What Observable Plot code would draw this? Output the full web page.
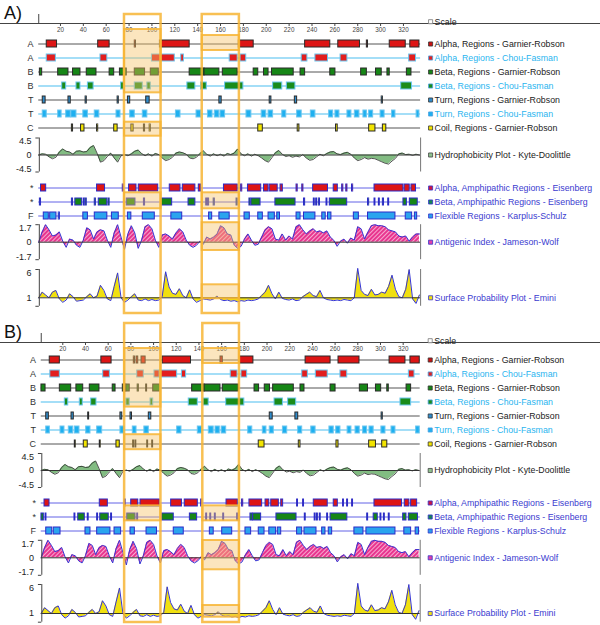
<!DOCTYPE html>
<html><head><meta charset="utf-8">
<script src="https://cdn.jsdelivr.net/npm/d3@7"></script>
<script src="https://cdn.jsdelivr.net/npm/@observablehq/plot@0.6"></script>
<style>
html,body{margin:0;padding:0;background:#fff;}
#chart{position:relative;width:600px;height:625px;overflow:hidden;font-family:"Liberation Sans",Arial,sans-serif;}
#chart svg{position:absolute !important;left:0;top:0;overflow:visible;background:transparent !important;font-family:"Liberation Sans",Arial,sans-serif;}
.plabel{position:absolute;left:4px;font-size:18px;line-height:18px;color:#111;}
</style></head><body><div id="chart"></div>
<script>
// ---------- data ----------
const X_DOMAIN = [0, 335];
const tickLabels = [20,40,60,80,100,120,140,160,180,200,220,240,260,280,300,320];
const samplePos = d3.range(1, 335, 3); // residue positions of the profile samples

// Panel A regions [start, end] (residue numbers)
const alphaGR_A = [[8,17],[53,63],[85,86],[107,133],[176,189],[234,256],[263,282],[288,289],[308,322],[326,334]];
const alphaCF_A = [[8,16],[55,61],[100,120],[125.6,128],[168,175],[177.5,182.5],[231,236],[243,254],[265,271],[325,331]];
const betaGR_A = [[2,4],[18,27],[31,37.5],[43,51.5],[63,67],[72,76],[76,78],[85,94],[99,106],[133,146],[146,159],[162,175],[189,193],[198,202],[205,224],[230,234],[256,260.5],[283,288],[296,301],[306,308],[323,327]];
const betaCF_A = [[21.5,25],[34,37.5],[44,49],[73,76],[85,92],[96,99],[131,138],[143,148],[164,180],[206,214],[218,225.5],[318,327.5]];
const turnGR_A = [[4.5,7],[27,29],[42,43],[70,71],[79,81],[95,98],[159,161],[203,204.5],[225,227],[301,302]];
const turnCF_A = [[4.5,8],[18,21],[25,29],[29.5,34],[40,44],[50,54],[69,72.5],[81,85],[92,96],[121,125],[139,143],[149,153],[155,159],[160,164],[182.7,187],[196,200],[202,206],[214,217.5],[227,231],[239,243],[255,258.5],[260.5,264],[271,274.5],[277.5,281.5],[285,288],[290,293.5],[300,303.5],[310,313],[331.5,334]];
const coilGR_A = [[30,31],[38,41],[52,53],[67,70],[82,84],[93,94],[98,99],[193,197],[227.5,229],[261,262.5],[290,295.5],[302,305]];
const alphaAmph_A = [[3,7.5],[52,59],[74.5,75.5],[80,86.5],[88.5,105.5],[115.6,125],[127,138],[141,143],[163,175],[178,179],[184,195.6],[198,202],[203,210],[212.5,214.5],[226.5,227.5],[231.5,232.5],[241,254],[259,262.6],[266.4,267.4],[270,271],[275,276],[294.7,320],[321,325.5],[327,331]];
const betaAmph_A = [[2,3],[30,31],[33,39],[40.4,41.2],[42,43],[50,51],[53.5,61],[62,63],[78,85.6],[93,94],[108,117.7],[132,138],[147.5,148.3],[149,150],[154,155],[174,175],[185.3,186.3],[187,195],[208,225.6],[233,234],[241.6,242.4],[243.7,244.5],[246,247],[252.7,253.5],[255.6,270.8],[289,290],[294.7,295.5],[298.5,299.3],[302,303],[306.7,307.5],[320,323],[325.6,332.5]];
const flexible_A = [[5.4,9.8],[11,16.5],[18.5,19.5],[40,44],[50,61],[65,71],[79,82],[92,102.5],[117,126.5],[150,152.7],[159,168],[181,185.6],[193,197],[202,207.5],[209.6,212],[226.5,230],[233,243],[249,252],[254,257],[276.6,281],[289,313],[322,327.6],[330,332]];

// Panel B regions
const alphaGR_B = [[8.5,17.4],[54,63],[82.6,83.6],[85,86.5],[89.4,93],[108,133],[159,161],[176,188],[234,256],[263,281.5],[308,322],[326.4,334.6]];
const alphaCF_B = [[9,17.4],[55.6,61.5],[85.6,91.4],[100.8,105.5],[105.5,120.8],[125,128.7],[168,174],[177.5,182.5],[231,236],[243,253.5],[264.7,270.7],[325,330]];
const betaGR_B = [[1.2,4.8],[17.4,27.4],[32,38],[43.8,52.3],[64,66.5],[72.9,75.9],[76,79],[86,87],[93.5,94.3],[99.7,106],[134,145],[145,159],[161,175],[189,193],[198,202.6],[205.4,223.6],[229.5,233],[256,260.4],[281.8,289],[296,300.6],[306,307.3],[323,327]];
const betaCF_B = [[21.8,24.8],[35,37.6],[45,49.7],[76,79],[97.3,99.7],[131,139],[144,148.6],[164,180],[206.6,214],[218.6,225.7],[317.6,327]];
const turnGR_B = [[5.4,7.7],[27.7,29.7],[42.4,43.2],[70.8,72.4],[79.7,81],[95.8,98],[202.4,205],[225,227.5],[301,302]];
const turnCF_B = [[5.4,8.6],[18,21.5],[25.3,29.2],[30.6,34.7],[40.6,44.4],[50.3,54.7],[70.8,74.4],[81.7,85],[91.9,95.8],[120.8,124.6],[139,142.8],[148.7,153],[154.6,158.4],[160,164],[183.4,187],[196.3,199.5],[202.4,206],[214,217.8],[227.4,231],[239,242.8],[255,258.8],[261,264.7],[271,274.4],[278,281.7],[284.7,288.2],[290.3,294],[300.8,304.4],[309.7,313.2],[331.4,334.6]];
const coilGR_B = [[30.6,31.4],[38.5,42],[52.6,53.4],[67.3,70.2],[82,82.8],[84,84.8],[94.4,95.2],[98.8,99.6],[192.7,197.8],[228,229.5],[261.2,263],[290,296],[301.5,306]];
const alphaAmph_B = [[3.9,8.3],[52.6,59.7],[74.6,75.4],[80.3,86.5],[88.5,105.5],[115.5,125],[127.5,139],[142,143],[164.3,174.3],[178,179],[184.5,195.7],[198.7,202],[203.7,210.4],[212.5,214.2],[226.5,227.3],[231.8,232.6],[241.2,253.5],[258.8,262.4],[267,267.8],[270.6,271.4],[275,275.8],[294.7,319],[321.4,325.5],[327,332.3]];
const betaAmph_B = [[1.2,3.3],[4.8,5.6],[30.3,31.1],[33.6,39.4],[42,42.8],[50.3,51.1],[53,60.5],[62.6,63.4],[76.8,84.1],[85.6,86.4],[107.6,117.8],[132,138.4],[146.4,147.2],[150,150.8],[154,154.8],[161.4,162.2],[173.7,174.5],[185.4,187.4],[187.8,194.8],[208.3,226],[233.3,234.1],[242,242.8],[244,244.8],[246.5,247.3],[253,253.8],[256,270.8],[288.3,289.1],[294,297.6],[300,300.8],[303,303.8],[307.3,308.1],[320,322.9],[325,333]];
const flexible_B = [[5.4,10.7],[12,18],[40,44.4],[50.3,62],[65.6,71.4],[79.7,83.5],[93.8,103],[117.8,126.6],[149.6,153],[160.5,169.3],[181,186],[192.7,197.8],[202,208],[209.5,212.5],[226.5,231],[233,243.6],[248.6,251.5],[254.4,257.4],[277,285],[287.6,313.2],[321,327],[331,334]];

// Profiles (sampled every 3 residues from residue 1)
const hydroValues = [0,0.3,0.2,-0.5,-1.0,-0.6,0.8,1.6,1.0,0.8,
 0.2,1.0,1.1,0.8,0.9,2.0,2.5,0.5,-1.9,-1.5,
 -0.4,0.5,-0.8,-1.9,-0.2,0.1,-0.2,0.3,1.0,1.3,
 0.4,-0.2,0.3,-0.3,0.4,0.1,-0.8,-1.5,-1.2,-0.6,
 0.5,0.8,0.6,0.2,-0.8,-1.0,-0.6,0.4,1.1,0.2,
 -0.3,0.3,-0.2,0.2,-0.3,0.4,0.1,0.5,1.6,0.3,
 -0.2,0.3,-0.3,0.2,-0.2,-0.8,-1.5,-1.9,-0.7,0.6,
 1.2,0.2,-0.4,-0.2,-0.6,-0.3,-0.5,0.1,-0.8,-1.4,
 -1.2,-0.5,0.2,-0.2,0.4,0.8,0.9,0.3,0.1,0.5,
 0.7,0.2,-0.8,-1.5,-1.2,-0.7,-1.1,-0.9,-1.0,-1.4,
 -1.8,-2.2,-2.4,-1.6,-0.9,0.3,0.5,0.1,0.2,-0.1,
 0.2,0];
const antigenicValues = [0,1.0,1.7,1.2,0.6,0.7,1.0,0.1,-0.5,0.3,
 0.2,-0.3,-0.5,0.2,1.4,1.2,0.3,1.0,1.2,1.1,
 0.2,-0.5,0.9,1.7,0.5,-0.7,0.8,1.6,0.9,-0.6,
 0.2,1.5,1.7,1.3,0.2,-0.5,0.7,0.8,0.6,0.3,
 0.9,1.3,1.0,0.2,-0.3,-0.5,-0.3,0.1,-0.2,0.5,
 0.3,0.5,0.8,1.6,1.4,0.8,0.7,-0.3,-0.6,-0.4,
 0.3,0.8,0.2,-0.3,-0.2,0.5,1.2,1.5,1.3,0.3,
 0.2,0.8,0.2,0.6,0.3,1.5,1.7,1.2,0.8,1.1,
 1.3,1.0,1.1,0.9,1.1,0.5,0.2,-0.4,0.1,0.3,
 -0.1,0.4,0.2,1.5,1.3,0.3,1.0,1.6,1.7,1.6,
 1.6,1.5,1.2,1.1,1.0,0.6,0.5,0.6,0.1,0.5,
 0.8,0.8];
const surfaceValues = [1.0,2.0,1.5,1.0,2.0,2.3,0.8,0.2,0.6,1.7,
 1.2,0.4,0.5,0.6,1.2,1.7,1.0,1.3,3.2,2.3,
 0.8,0.5,3.0,5.4,1.0,0.2,0.6,1.2,1.7,0.6,
 0.5,0.8,0.5,0.7,0.5,0.6,1.2,5.6,2.9,1.8,
 1.6,2.6,1.4,1.0,2.4,0.8,0.2,0.5,0.8,0.7,
 0.6,0.8,1.3,0.7,0.5,0.6,0.4,0.5,0.3,0.5,
 0.4,0.6,0.5,0.6,0.8,1.4,2.0,3.2,1.7,0.8,
 2.0,0.9,0.7,0.6,0.8,0.5,0.6,1.2,1.6,2.0,
 1.4,1.2,2.3,1.0,0.7,0.6,0.5,0.6,0.5,0.7,
 0.6,0.5,1.0,6.2,2.3,1.6,1.4,2.5,1.5,1.6,
 2.0,1.8,3.0,5.0,2.5,1.2,1.0,2.5,6.0,0.8,
 0.0,1.5];

// ---------- styles ----------
const BLACK_T = "#222", CYAN_T = "#2bb5ef", BLUE_T = "#3b3bcf";
const trackKeys = ["aGR","aCF","bGR","bCF","tGR","tCF","cGR"];
const trackStyle = {
  aGR:{letter:"A", fill:"#dd1515", stroke:"#2a2a2a", line:"#555", lw:1, legend:"Alpha, Regions - Garnier-Robson", text:BLACK_T, sq:"#cc1111", sqs:"#333"},
  aCF:{letter:"A", fill:"#e21e1e", stroke:"#6cc6ef", line:"#86d3f5", lw:1.4, legend:"Alpha, Regions - Chou-Fasman", text:CYAN_T, sq:"#dd2222", sqs:"#4a9fe0"},
  bGR:{letter:"B", fill:"#168616", stroke:"#2a2a2a", line:"#555", lw:1, legend:"Beta, Regions - Garnier-Robson", text:BLACK_T, sq:"#168616", sqs:"#333"},
  bCF:{letter:"B", fill:"#1a8c1a", stroke:"#6cc6ef", line:"#86d3f5", lw:1.4, legend:"Beta, Regions - Chou-Fasman", text:CYAN_T, sq:"#1a8c1a", sqs:"#4a9fe0"},
  tGR:{letter:"T", fill:"#2f8ccc", stroke:"#2a2a2a", line:"#555", lw:1, legend:"Turn, Regions - Garnier-Robson", text:BLACK_T, sq:"#2f8ccc", sqs:"#333"},
  tCF:{letter:"T", fill:"#1eb0f0", stroke:"#6cc6ef", line:"#86d3f5", lw:1.4, legend:"Turn, Regions - Chou-Fasman", text:CYAN_T, sq:"#1eb0f0", sqs:"#4a9fe0"},
  cGR:{letter:"C", fill:"#f2e400", stroke:"#2a2a2a", line:"#555", lw:1, legend:"Coil, Regions - Garnier-Robson", text:BLACK_T, sq:"#f2e400", sqs:"#333"}
};
const amphKeys = ["alA","beA","flx"];
const amphStyle = {
  alA:{letter:"*", fill:"#dd1515", stroke:"#2b2bc8", line:"#6262e6", lw:1, legend:"Alpha, Amphipathic Regions - Eisenberg", text:BLUE_T, sq:"#cc1540", sqs:"#3333cc"},
  beA:{letter:"*", fill:"#168616", stroke:"#2b2bc8", line:"#6262e6", lw:1, legend:"Beta, Amphipathic Regions - Eisenberg", text:BLUE_T, sq:"#168650", sqs:"#3333cc"},
  flx:{letter:"F", fill:"#2aa4ee", stroke:"#2b2bc8", line:"#6262e6", lw:1, legend:"Flexible Regions - Karplus-Schulz", text:BLUE_T, sq:"#2a9cee", sqs:"#3333cc"}
};

// ---------- layout ----------
const panels = [
  {id:"A", label:"A)", labelTop:4, xRange:[37.1,420.1], axisY:23,
   rowY0:42, rowStep:14.45, hydroZero:154.5, amphY0:187, amphStep:14.3,
   antiZero:241.7, surfOne:297.3, surfSix:269, boxTop:14, boxBottom:313,
   boxes:[[76,108],[144,176.5]],
   tracks:{aGR:alphaGR_A,aCF:alphaCF_A,bGR:betaGR_A,bCF:betaCF_A,tGR:turnGR_A,tCF:turnCF_A,cGR:coilGR_A},
   amph:{alA:alphaAmph_A,beA:betaAmph_A,flx:flexible_A},
   fills:(r,a,P)=>[[0,r(0)-13,r(3)+7],[0,r(6)-7,r(6)+7],[0,a(1)-9,a(1)+7],
                   [1,r(0)-7,r(0)+8],[1,a(1)-9,a(1)+7],[1,P.antiZero-19.5,P.antiZero+8.3],[1,P.surfOne-13,P.surfOne+1]]},
  {id:"B", label:"B)", labelTop:323, xRange:[39.6,419.7], axisY:342,
   rowY0:359, rowStep:14.2, hydroZero:470, amphY0:502, amphStep:14.35,
   antiZero:557.3, surfOne:613, surfSix:584, boxTop:323, boxBottom:622,
   boxes:[[74.5,106.5],[143.4,175.7]],
   tracks:{aGR:alphaGR_B,aCF:alphaCF_B,bGR:betaGR_B,bCF:betaCF_B,tGR:turnGR_B,tCF:turnCF_B,cGR:coilGR_B},
   amph:{alA:alphaAmph_B,beA:betaAmph_B,flx:flexible_B},
   fills:(r,a,P)=>[[0,r(0)-11,r(3)+5],[0,r(6)-10,r(6)+5],[0,a(1)-11,a(1)+4],
                   [1,r(0)-11,r(0)+4],[1,a(1)-11,a(1)+4],[1,P.antiZero-17.3,P.antiZero+12],[1,P.surfOne-8,P.surfOne+3.7]]}
];

const chart = document.getElementById("chart");
const FONT = "Liberation Sans, Arial, sans-serif";
const base = {width:600, height:625, marginTop:0, marginRight:0, marginBottom:0, marginLeft:0, color:{type:"identity"}};

function legendMarks(keys, styles, yAcc) {
  return [
    Plot.dot(keys, {x:X_DOMAIN[1], y:yAcc, dx:10, symbol:"square", r:2.3, fill:d=>styles[d].sq, stroke:d=>styles[d].sqs, strokeWidth:0.8}),
    Plot.text(keys, {x:X_DOMAIN[1], y:yAcc, dx:14, text:d=>styles[d].legend, textAnchor:"start", fontSize:8.8, fill:d=>styles[d].text, fontFamily:FONT})
  ];
}

function rowsPlot(P, keys, styles, dataMap, y0, step) {
  const segs = keys.flatMap(k => dataMap[k].map(([s,e]) => ({row:k, start:s, end:e})));
  return Plot.plot({...base,
    x:{domain:X_DOMAIN, range:P.xRange, axis:null},
    y:{type:"band", domain:keys, range:[y0-step/2, y0+(keys.length-0.5)*step], paddingInner:0.5, paddingOuter:0.25, axis:null},
    marks:[
      Plot.ruleY(keys, {y:d=>d, x1:1, x2:X_DOMAIN[1], stroke:d=>styles[d].line, strokeWidth:d=>styles[d].lw}),
      Plot.barX(segs, {y:"row", x1:"start", x2:"end", fill:d=>styles[d.row].fill, stroke:d=>styles[d.row].stroke, strokeWidth:1}),
      Plot.text(keys, {y:d=>d, x:0, dx:-4, text:d=>styles[d].letter, textAnchor:"end", fontSize:9, fill:"#333", fontFamily:FONT}),
      ...legendMarks(keys, styles, d=>d)
    ]});
}

function profilePlot(P, cfg) {
  const samples = samplePos.map((pos,i)=>({pos, v:cfg.values[i]}));
  const lg = {k:{sq:cfg.sq, sqs:cfg.sqs, legend:cfg.legend, text:cfg.text}};
  const marks = [
    Plot.areaY(samples, {x:"pos", y1:cfg.base, y2:"v", fill:cfg.fill}),
    Plot.lineY(samples, {x:"pos", y:"v", stroke:cfg.line, strokeWidth:cfg.lw}),
    Plot.ruleY([cfg.base], {x1:1, x2:X_DOMAIN[1], stroke:"#333", strokeWidth:1}),
    Plot.ruleX([1.5], {y1:cfg.lo, y2:cfg.hi, stroke:"#444"}),
    Plot.ruleY([cfg.lo, cfg.hi], {x1:-1.5, x2:1.5, stroke:"#444"}),
    Plot.ruleX([X_DOMAIN[1]], {y1:cfg.lo, y2:cfg.hi, stroke:"#777"}),
    ...cfg.labels.map(l => Plot.text([l], {x:0, y:"v", text:"t", dx:-6, textAnchor:"end", lineAnchor:l.anchor, fontSize:9, fill:"#222", fontFamily:FONT})),
    ...legendMarks(["k"], lg, () => cfg.base)
  ];
  return Plot.plot({...base,
    x:{domain:X_DOMAIN, range:P.xRange, axis:null},
    y:{domain:cfg.domain, range:cfg.range, axis:null},
    marks});
}

for (const P of panels) {
  const rowY = i => P.rowY0 + i*P.rowStep;
  const amphY = i => P.amphY0 + i*P.amphStep;
  const svgs = [];

  // scale axis
  svgs.push(Plot.plot({...base, marginBottom:625-P.axisY,
    style:{fontSize:"6.3px", color:"#444"},
    x:{domain:X_DOMAIN, range:P.xRange, ticks:tickLabels, tickFormat:d=>String(d), tickSize:3, tickPadding:1.5, line:true, label:null},
    y:{domain:[0,1], range:[P.axisY, P.axisY-9], axis:null},
    marks:[
      Plot.ruleX([1], {y1:0, y2:1, stroke:"#444"}),
      ...legendMarks(["s"], {s:{sq:"#fff", sqs:"#777", legend:"Scale", text:BLACK_T}}, () => 0.2)
    ]}));

  svgs.push(rowsPlot(P, trackKeys, trackStyle, P.tracks, P.rowY0, P.rowStep));

  svgs.push(profilePlot(P, {values:hydroValues, base:0, domain:[-4.5,4.5], range:[P.hydroZero+17, P.hydroZero-17],
    lo:-4.5, hi:4.5, fill:"#82bc82", line:"#2a2a2a", lw:0.8,
    labels:[{v:4.5,t:"4.5",anchor:"top"},{v:0,t:"0",anchor:"middle"},{v:-4.5,t:"-4.5",anchor:"bottom"}],
    sq:"#8fc28f", sqs:"#444", legend:"Hydrophobicity Plot - Kyte-Doolittle", text:BLACK_T}));

  svgs.push(rowsPlot(P, amphKeys, amphStyle, P.amph, P.amphY0, P.amphStep));

  const anti = profilePlot(P, {values:antigenicValues, base:0, domain:[-1.7,1.7], range:[P.antiZero+17.5, P.antiZero-17.5],
    lo:-1.7, hi:1.7, fill:"#ea3f96", line:"#3434d4", lw:1,
    labels:[{v:1.7,t:"1.7",anchor:"top"},{v:0,t:"0",anchor:"middle"},{v:-1.7,t:"-1.7",anchor:"bottom"}],
    sq:"#e040a8", sqs:"#3333cc", legend:"Antigenic Index - Jameson-Wolf", text:BLUE_T});
  // hatch pattern for the antigenic fill
  const hid = "hatch" + P.id;
  d3.select(anti).selectAll('g[fill="#ea3f96"]').attr("fill", `url(#${hid})`);
  const pat = d3.select(anti).insert("defs", ":first-child").append("pattern")
    .attr("id", hid).attr("patternUnits","userSpaceOnUse").attr("width",3).attr("height",3)
    .attr("patternTransform","rotate(45)");
  pat.append("rect").attr("width",3).attr("height",3).attr("fill","#e8358f");
  pat.append("line").attr("x1",0.5).attr("y1",0).attr("x2",0.5).attr("y2",3).attr("stroke","#f7a9d0").attr("stroke-width",1);
  svgs.push(anti);

  svgs.push(profilePlot(P, {values:surfaceValues, base:1, domain:[1,6], range:[P.surfOne, P.surfSix],
    lo:-0.5, hi:6, fill:"#f0e010", line:"#3434d4", lw:1,
    labels:[{v:6,t:"6",anchor:"top"},{v:1,t:"1",anchor:"middle"}],
    sq:"#f0e010", sqs:"#3333cc", legend:"Surface Probability Plot - Emini", text:BLUE_T}));

  // highlight boxes
  const boxes = P.boxes.map(([a,b]) => ({x1:a, x2:b, y1:P.boxTop, y2:P.boxBottom}));
  const fills = P.fills(rowY, amphY, P).map(([i,y1,y2]) => ({x1:P.boxes[i][0], x2:P.boxes[i][1], y1, y2}));
  svgs.push(Plot.plot({...base,
    x:{domain:X_DOMAIN, range:P.xRange, axis:null},
    y:{domain:[0,625], range:[0,625], axis:null},
    marks:[
      Plot.rect(fills, {x1:"x1", x2:"x2", y1:"y1", y2:"y2", fill:"#f6c064", fillOpacity:0.42, stroke:"#f7b535", strokeOpacity:0.85, strokeWidth:2}),
      Plot.rect(boxes, {x1:"x1", x2:"x2", y1:"y1", y2:"y2", fill:"none", stroke:"#f7b535", strokeOpacity:0.85, strokeWidth:2.5})
    ]}));

  for (const s of svgs) chart.appendChild(s);
  const lab = document.createElement("div");
  lab.className = "plabel"; lab.style.top = P.labelTop + "px"; lab.textContent = P.label;
  chart.appendChild(lab);
}
</script></body></html>
